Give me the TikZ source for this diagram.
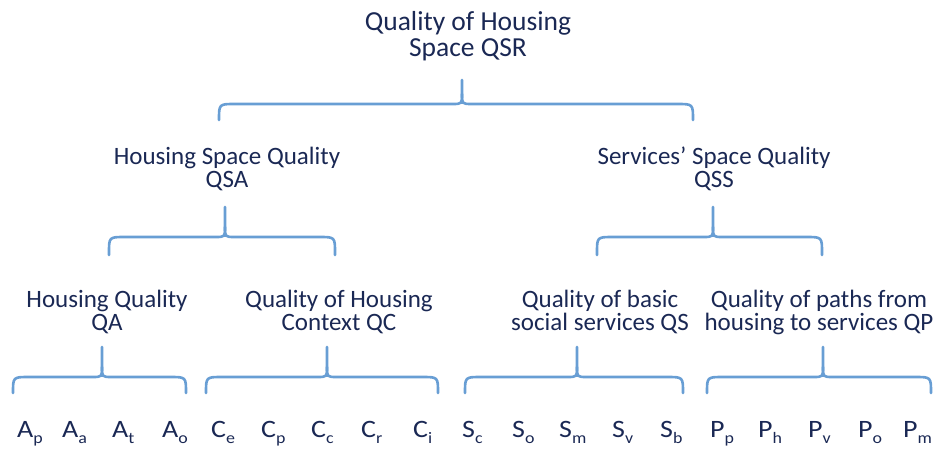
\documentclass[tikz,border=0pt]{standalone}
\usepackage{fontspec}
\setmainfont{Carlito}
\newfontfamily\leaffont{Carlito}[FakeStretch = 1.12]
\definecolor{navy}{RGB}{26,40,84}
\definecolor{bracecol}{RGB}{104,158,212}
\tikzset{
  brace/.style = {draw = bracecol, line width = 2.6pt, line cap = round},
  group/.style = {text = navy, align = center, inner sep = 0pt, anchor = base,
                  font = \fontsize{25}{22.5}\selectfont},
  leaf/.style = {text = navy, inner sep = 0pt, anchor = base west,
                 font = \leaffont\fontsize{25}{25}\selectfont}
}
\newcommand{\lsub}[1]{\raisebox{-6pt}{\fontsize{16}{16}\selectfont #1}}
\newcommand{\hbrace}[6]{%
  \draw [brace] (#1, #4) -- (#1, #5 + 16) .. controls (#1, #5) .. (#1 + 16, #5)
    -- (#3 - 10, #5) .. controls (#3, #5) .. (#3, #5 - 10) -- (#3, #6);
  \draw [brace] (#2, #4) -- (#2, #5 + 16) .. controls (#2, #5) .. (#2 - 16, #5)
    -- (#3 + 10, #5) .. controls (#3, #5) .. (#3, #5 - 10);
}
\begin{document}
\begin{tikzpicture}[x = 1pt, y = -1pt]
  \useasboundingbox (0, 0) rectangle (933, 448);
  \node [group, font = \fontsize{27.5}{26}\selectfont] (qsr) at (468, 56) {Quality of Housing\\Space QSR};
  \node [group] (qsa) at (227, 187) {Housing Space Quality\\QSA};
  \node [group] (qss) at (714, 187) {Services’ Space Quality\\QSS};
  \node [group] (qa) at (107, 330) {Housing Quality\\QA};
  \node [group] (qc) at (339, 330) {Quality of Housing\\Context QC};
  \node [group] (qs) at (600, 330) {Quality of basic\\social services QS};
  \node [group] (qp) at (819, 330) {Quality of paths from\\housing to services QP};
  \hbrace{219}{693}{462}{120}{104}{80}
  \hbrace{109}{335}{225}{255}{237}{207}
  \hbrace{597}{822}{713}{255}{237}{207}
  \hbrace{13}{186}{102}{393}{377}{347}
  \hbrace{206}{438}{327}{393}{377}{347}
  \hbrace{465}{683}{577}{393}{377}{347}
  \hbrace{707}{931}{823}{393}{377}{347}
  \foreach \x/\b/\s [count = \i] in {17/A/p, 62/A/a, 112/A/t, 162/A/o,
      211/C/e, 261/C/p, 311/C/c, 361/C/r, 413/C/i,
      462/S/c, 512/S/o, 559/S/m, 612/S/v, 660/S/b,
      710/P/p, 758/P/h, 808/P/v, 858/P/o, 903/P/m}
    \node [leaf] (leaf\i) at (\x, 437) {\b\lsub{\s}};
\end{tikzpicture}
\end{document}
